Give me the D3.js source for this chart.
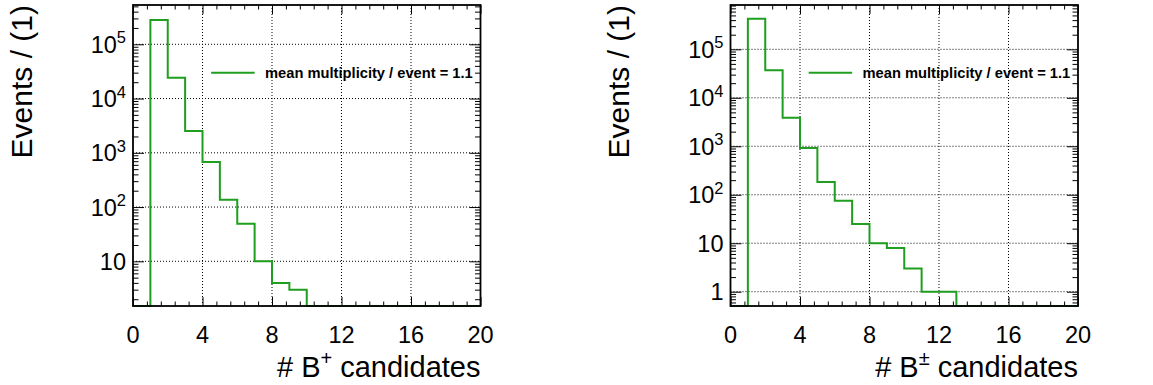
<!DOCTYPE html>
<html><head><meta charset="utf-8">
<script src="https://cdn.jsdelivr.net/npm/d3@7"></script>
<style>body{margin:0;background:#fff}svg{display:block;font-family:"Liberation Sans",Arial,Helvetica,sans-serif}</style>
</head><body><svg id="c" width="1153" height="385"></svg>
<script>
// ---- data ----
const binLow = d3.range(0, 20);               // bin lower edges, width 1
const bPlusCounts = [0, 280000, 24200, 2520, 676, 137, 49, 10, 4, 3, 0, 0, 0, 0, 0, 0, 0, 0, 0, 0];
const bPmCounts   = [0, 428000, 36900, 3890, 919, 184, 75.5, 25, 10, 8, 3, 1, 1, 0, 0, 0, 0, 0, 0, 0];
const xTickLabels = [0, 4, 8, 12, 16, 20];
const leftYTicks  = [10, 100, 1000, 10000, 100000];
const rightYTicks = [1, 10, 100, 1000, 10000, 100000];
const legendText = "mean multiplicity / event = 1.1";
const yTitle = "Events / (1)";

const svg = d3.select("#c");
const GREEN = "#1f9e1f";

const panels = [
  {x0:133, x1:480.5, y0:5, y1:306, ymin:1.5, ymax:5.3e5, counts:bPlusCounts, yticks:leftYTicks, sup:"+", titleX:32},
  {x0:730.5, x1:1078, y0:5, y1:306, ymin:0.507, ymax:8.2e5, counts:bPmCounts, yticks:rightYTicks, sup:"\u00B1", titleX:629}
];

panels.forEach(p => {
  const g = svg.append("g");
  const x = d3.scaleLinear().domain([0, 20]).range([p.x0, p.x1]);
  const y = d3.scaleLog().domain([p.ymin, p.ymax]).range([p.y1, p.y0]);

  // grid
  const grid = g.append("g").attr("stroke", "#000").attr("stroke-width", 1).attr("stroke-dasharray", "1,2");
  grid.selectAll(".gx").data(xTickLabels.filter(v => v > 0 && v < 20)).join("line")
    .attr("x1", d => x(d)).attr("x2", d => x(d)).attr("y1", p.y0).attr("y2", p.y1);
  grid.selectAll(".gy").data(p.yticks).join("line")
    .attr("y1", d => y(d)).attr("y2", d => y(d)).attr("x1", p.x0).attr("x2", p.x1);

  // minor/major tick sets
  const xMinor = d3.range(0, 20.001, 0.8).filter(v => Math.abs(v/4 - Math.round(v/4)) > 1e-6);
  const yMinor = [];
  for (let e = -1; e <= 6; e++) for (let m = 2; m <= 9; m++) { const v = m * Math.pow(10, e); if (v > p.ymin && v < p.ymax) yMinor.push(v); }
  const yMajor = [];
  for (let e = -1; e <= 6; e++) { const v = Math.pow(10, e); if (v > p.ymin && v < p.ymax) yMajor.push(v); }

  const tickG = (axis, tr) => g.append("g").attr("transform", tr).call(axis)
      .call(s => s.select(".domain").remove()).call(s => s.selectAll("text").remove())
      .call(s => s.selectAll("line").attr("stroke", "#000").attr("stroke-width", 1));
  tickG(d3.axisBottom(x).tickValues(xTickLabels).tickSize(-9), `translate(0,${p.y1})`);
  tickG(d3.axisBottom(x).tickValues(xMinor).tickSize(-4.5), `translate(0,${p.y1})`);
  tickG(d3.axisTop(x).tickValues(xTickLabels).tickSize(-9), `translate(0,${p.y0})`);
  tickG(d3.axisTop(x).tickValues(xMinor).tickSize(-4.5), `translate(0,${p.y0})`);
  tickG(d3.axisLeft(y).tickValues(yMajor).tickSize(-11), `translate(${p.x0},0)`);
  tickG(d3.axisLeft(y).tickValues(yMinor).tickSize(-5.5), `translate(${p.x0},0)`);
  tickG(d3.axisRight(y).tickValues(yMajor).tickSize(-11), `translate(${p.x1},0)`);
  tickG(d3.axisRight(y).tickValues(yMinor).tickSize(-5.5), `translate(${p.x1},0)`);

  // histogram step line (values below axis clamped to bottom)
  const clampY = v => y(Math.max(v, p.ymin));
  const pts = [];
  binLow.forEach((b, i) => { pts.push([x(b), clampY(p.counts[i])]); pts.push([x(b + 1), clampY(p.counts[i])]); });
  g.append("path").attr("d", d3.line()(pts)).attr("fill", "none").attr("stroke", GREEN).attr("stroke-width", 2);

  // frame
  g.append("rect").attr("x", p.x0).attr("y", p.y0).attr("width", p.x1 - p.x0).attr("height", p.y1 - p.y0)
    .attr("fill", "none").attr("stroke", "#000").attr("stroke-width", 1.8);

  // x tick labels
  g.selectAll(".xl").data(xTickLabels).join("text")
    .attr("x", d => x(d)).attr("y", 343).attr("text-anchor", "middle").attr("font-size", 23.5).text(d => d);

  // y tick labels
  p.yticks.forEach(v => {
    const t = g.append("text").attr("x", p.x0 - 7).attr("y", y(v) + 8.5).attr("text-anchor", "end").attr("font-size", 23.5);
    const ex = Math.round(Math.log10(v));
    if (ex <= 1) t.text(v);
    else { t.append("tspan").text("10"); t.append("tspan").attr("font-size", 16.5).attr("dy", -9.5).text(ex); }
  });

  // x title
  const xt = g.append("text").attr("x", p.x1).attr("y", 377).attr("text-anchor", "end").attr("font-size", 29);
  xt.append("tspan").text("# B");
  xt.append("tspan").attr("font-size", 20).attr("dy", -12).text(p.sup);
  xt.append("tspan").attr("dy", 12).text(" candidates");

  // y title
  g.append("text").attr("transform", `translate(${p.titleX},${p.y0}) rotate(-90)`).attr("text-anchor", "end")
    .attr("font-size", 30).text(yTitle);

  // legend
  const ly = 72.7;
  g.append("line").attr("x1", x(4.5)).attr("x2", x(7.0)).attr("y1", ly).attr("y2", ly).attr("stroke", GREEN).attr("stroke-width", 2);
  g.append("text").attr("x", x(7.6)).attr("y", ly + 5.2).attr("font-size", 14.7).attr("font-weight", "bold").text(legendText);
});
</script></body></html>
